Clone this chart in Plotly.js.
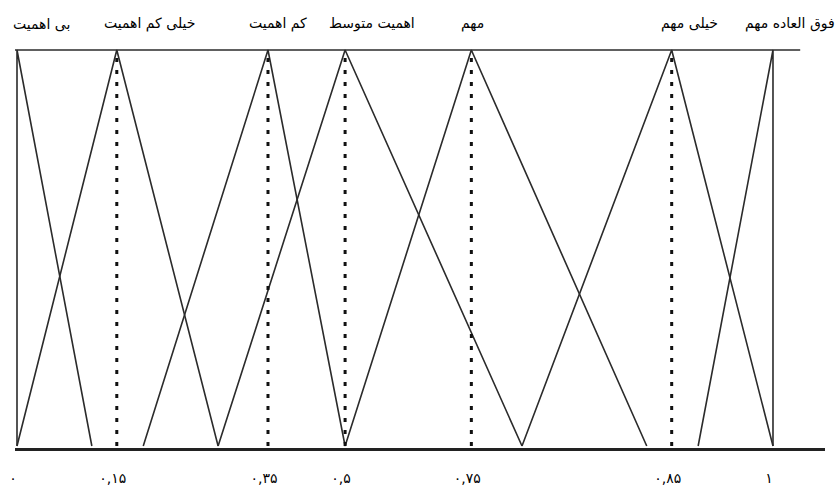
<!DOCTYPE html>
<html>
<head>
<meta charset="utf-8">
<script src="https://cdn.plot.ly/plotly-3.0.1.min.js"></script>
<style>
  body { margin: 0; background: #fff; }
  #chart { width: 837px; height: 495px; }
</style>
</head>
<body>
<div id="chart"></div>
<script>
// Fuzzy sets, positions along the drawn scale (0 = left edge, 1 = right edge)
var setNames = ['بی اهمیت', 'خیلی کم اهمیت', 'کم اهمیت', 'اهمیت متوسط', 'مهم', 'خیلی مهم', 'فوق العاده مهم']
var leftPos = [0, 0, 0.167, 0.266, 0.434, 0.668, 0.901]
var peakPos = [0, 0.132, 0.332, 0.434, 0.601, 0.866, 1]
var rightPos = [0.099, 0.266, 0.434, 0.668, 0.833, 1, 1]
var tickText = ['۰', '۰,۱۵', '۰,۳۵', '۰,۵', '۰,۷۵', '۰,۸۵', '۱']

var lineColor = '#2b2b2b'
var fontFamily = '"DejaVu Sans", "Noto Sans", sans-serif'

var data = []

// triangles
for (var i = 0; i < setNames.length; i++) {
  data.push({
    x: [leftPos[i], peakPos[i], rightPos[i]],
    y: [0, 1, 0],
    mode: 'lines',
    name: setNames[i],
    line: { color: lineColor, width: 1.6 },
    hoverinfo: 'name'
  })
}

// dotted lines under the inner peaks
for (var i = 1; i < peakPos.length - 1; i++) {
  data.push({
    x: [peakPos[i], peakPos[i]],
    y: [0, 1],
    mode: 'lines',
    line: { color: '#111', width: 3, dash: '4px,8px' },
    hoverinfo: 'skip'
  })
}

// label offsets from the peaks (pixels)
var labelShift = [24, 33, 10, 27, 1, 18, 17]
var annotations = setNames.map(function (name, i) {
  return {
    x: peakPos[i],
    y: 1,
    xref: 'x',
    yref: 'paper',
    yanchor: 'bottom',
    yshift: 14,
    xshift: labelShift[i],
    text: name,
    showarrow: false,
    font: { family: fontFamily, size: 14, color: '#000' }
  }
})

var layout = {
  width: 837,
  height: 495,
  margin: { l: 15, r: 12, t: 48, b: 47 },
  paper_bgcolor: '#fff',
  plot_bgcolor: '#fff',
  showlegend: false,
  xaxis: {
    range: [-0.00265, 1.0688],
    showgrid: false,
    zeroline: false,
    showline: true,
    linecolor: '#222',
    linewidth: 3,
    tickmode: 'array',
    tickvals: peakPos,
    ticktext: tickText,
    ticks: 'outside',
    ticklen: 15,
    tickcolor: 'rgba(0,0,0,0)',
    ticklabelshift: -4,
    tickfont: { family: fontFamily, size: 14, color: '#000' }
  },
  yaxis: {
    range: [-0.005, 1.005],
    showgrid: false,
    zeroline: false,
    showline: false,
    showticklabels: false,
    ticks: ''
  },
  shapes: [{
    type: 'line',
    xref: 'x',
    yref: 'y',
    x0: -0.00265,
    x1: 1.036,
    y0: 1,
    y1: 1,
    line: { color: lineColor, width: 1.6 }
  }],
  annotations: annotations
}

Plotly.newPlot('chart', data, layout, { displayModeBar: false })
</script>
</body>
</html>
